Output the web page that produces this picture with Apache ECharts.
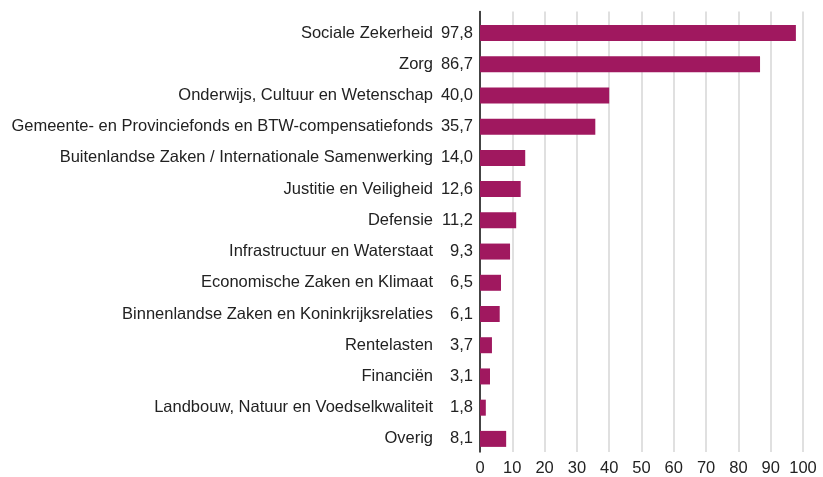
<!DOCTYPE html>
<html><head><meta charset="utf-8">
<script src="https://cdn.jsdelivr.net/npm/echarts@6/dist/echarts.min.js"></script>
<style>html,body{margin:0;padding:0;background:#fff}#c{width:823px;height:477px}</style>
</head><body><div id="c"></div>
<script>
const categories = [
  "Sociale Zekerheid",
  "Zorg",
  "Onderwijs, Cultuur en Wetenschap",
  "Gemeente- en Provinciefonds en BTW-compensatiefonds",
  "Buitenlandse Zaken / Internationale Samenwerking",
  "Justitie en Veiligheid",
  "Defensie",
  "Infrastructuur en Waterstaat",
  "Economische Zaken en Klimaat",
  "Binnenlandse Zaken en Koninkrijksrelaties",
  "Rentelasten",
  "Financiën",
  "Landbouw, Natuur en Voedselkwaliteit",
  "Overig"
];
const values = [97.8, 86.7, 40.0, 35.7, 14.0, 12.6, 11.2, 9.3, 6.5, 6.1, 3.7, 3.1, 1.8, 8.1];
const xTicks = [0, 10, 20, 30, 40, 50, 60, 70, 80, 90, 100];

const fmt = v => v.toFixed(1).replace('.', ',');
const xMin = xTicks[0], xMax = xTicks[xTicks.length - 1];
const chart = echarts.init(document.getElementById('c'));
chart.setOption({
  animation: false,
  textStyle: { fontFamily: 'Liberation Sans, Arial, sans-serif' },
  grid: [
    { left: 480, right: 20, top: 11.5, bottom: 22.5 },
    { left: 480, right: 20, top: 17.4, bottom: 22.5 }
  ],
  xAxis: [{
    gridIndex: 0, type: 'value', min: xMin, max: xMax, interval: 10,
    axisLine: { show: false }, axisTick: { show: false },
    splitLine: { show: true, lineStyle: { color: '#d6d6d6', width: 1.5 } },
    axisLabel: { color: '#222', fontSize: 16.5, margin: 8 }
  }, {
    gridIndex: 1, type: 'value', min: xMin, max: xMax, interval: 10, show: false
  }],
  yAxis: [{
    gridIndex: 0, type: 'value', min: 0, max: 1,
    axisLine: { show: true, lineStyle: { color: '#111', width: 1.5 } },
    axisTick: { show: false }, axisLabel: { show: false }, splitLine: { show: false }
  }, {
    gridIndex: 1, type: 'category', data: categories, inverse: true,
    axisLine: { show: false },
    axisTick: { show: false },
    axisLabel: {
      margin: 7,
      formatter: (name, i) => '{a|' + name + '}{b|' + fmt(values[i]) + '}',
      rich: {
        a: { color: '#222', fontSize: 16.5, fontFamily: 'Liberation Sans' },
        b: { color: '#222', fontSize: 16.5, fontFamily: 'Liberation Sans', width: 40, align: 'right' }
      }
    }
  }],
  series: [{
    type: 'bar', xAxisIndex: 1, yAxisIndex: 1, data: values, barWidth: 16,
    itemStyle: { color: '#A0185F' }
  }]
});
</script></body></html>
